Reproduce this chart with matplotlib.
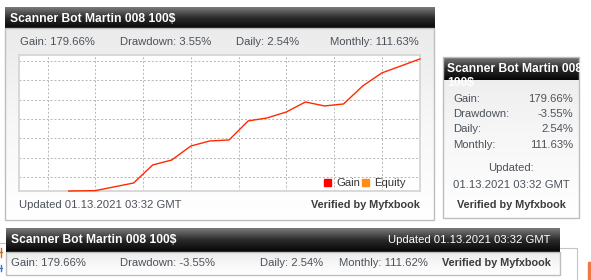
import numpy as np
import matplotlib.pyplot as plt
from matplotlib.patches import Rectangle
from matplotlib.colors import LinearSegmentedColormap

plt.rcParams['font.family'] = ['Liberation Sans', 'DejaVu Sans']

title = "Scanner Bot Martin 008 100$"
updated = "01.13.2021 03:32 GMT"
stat_labels = ["Gain:", "Drawdown:", "Daily:", "Monthly:"]
stats_top = ["179.66%", "3.55%", "2.54%", "111.63%"]
stats_side = ["179.66%", "-3.55%", "2.54%", "111.63%"]
stats_bottom = ["179.66%", "-3.55%", "2.54%", "111.62%"]

# gain curve, x in chart steps
step = [2.6, 4, 6, 7, 8, 9, 10, 11, 12, 13, 14, 15, 16, 17, 18, 19, 20, 21]
gain = [0, 0.5, 10.9, 35.4, 42.2, 61.2, 68.1, 69.4, 95.3, 99.4, 107.5,
        121.1, 115.7, 118.4, 142.9, 160.6, 170.1, 179.66]
series = ["Gain", "Equity"]
series_col = ["#ff0000", "#ff8c1a"]

W, H = 591, 280
fig = plt.figure(figsize=(W / 100, H / 100), dpi=100)
fig.patch.set_facecolor('white')

bg = fig.add_axes([0, 0, 1, 1])
bg.set_xlim(0, W)
bg.set_ylim(H, 0)
bg.axis('off')

hdr_cmap = LinearSegmentedColormap.from_list('hdr', ['#7a7a7a', '#2a2a2a', '#050505'])
body_cmap = LinearSegmentedColormap.from_list('body', ['#ebebeb', '#f7f7f7', '#ffffff'])
grad = np.linspace(0, 1, 64).reshape(-1, 1)


def gradient(x0, x1, y0, y1, cmap):
    bg.imshow(grad, cmap=cmap, aspect='auto', origin='upper',
              extent=(x0, x1, y1, y0), interpolation='bilinear', zorder=1)


def border(x0, x1, y0, y1, ec='#bdbdbd', lw=1.0):
    bg.add_patch(Rectangle((x0, y0), x1 - x0, y1 - y0, fill=False,
                           ec=ec, lw=lw, zorder=2))


TXT = '#4c525a'
BOLD = '#3c3c3c'

# ---- widget 1 (big, with chart)
gradient(5, 434, 28, 220, body_cmap)
border(5, 434, 28, 220)
gradient(5, 435, 7, 29, hdr_cmap)
bg.text(10, 18.5, title, color='white', fontsize=8.7, fontweight='bold', va='center', zorder=3)
for xp, lab, val in zip([20, 120, 236, 330], stat_labels, stats_top):
    bg.text(xp, 42, f"{lab} {val}", color=TXT, fontsize=8.1, va='center', zorder=3)
bg.text(19, 205, "Updated " + updated, color=TXT, fontsize=8.1, va='center', zorder=3)
bg.text(420, 205, "Verified by Myfxbook", color=BOLD, fontsize=7.8,
        fontweight='bold', ha='right', va='center', zorder=3)

# ---- widget 2 (side box)
gradient(443, 579, 57, 218, body_cmap)
border(443, 579, 57, 218)
gradient(443, 579, 57, 80, hdr_cmap)
bg.text(447, 69, "Scanner Bot Martin 008", color='white', fontsize=8.7,
        fontweight='bold', va='center', zorder=3)
bg.text(447, 83, "100$", color='white', fontsize=8.7, fontweight='bold', va='center', zorder=3)
for yp, lab, val in zip([99, 114, 129, 145], stat_labels, stats_side):
    bg.text(453, yp, lab, color=TXT, fontsize=8.1, va='center', zorder=3)
    bg.text(573, yp, val, color=TXT, fontsize=8.1, va='center', ha='right', zorder=3)
bg.text(511, 168, "Updated:", color=TXT, fontsize=8.1, va='center', ha='center', zorder=3)
bg.text(511, 185, updated, color=TXT, fontsize=8.1, va='center', ha='center', zorder=3)
bg.text(511, 205, "Verified by Myfxbook", color=BOLD, fontsize=7.8,
        fontweight='bold', ha='center', va='center', zorder=3)

# ---- widget 3 (bottom bar)
gradient(6, 560, 252, 275, body_cmap)
border(6, 560, 252, 275)
gradient(6, 560, 228, 252, hdr_cmap)
bg.text(11, 240, title, color='white', fontsize=8.7, fontweight='bold', va='center', zorder=3)
bg.text(550, 240, "Updated " + updated, color='white', fontsize=8.1, ha='right', va='center', zorder=3)
for xp, lab, val in zip([11, 120, 260, 339], stat_labels, stats_bottom):
    bg.text(xp, 263, f"{lab} {val}", color=TXT, fontsize=8.1, va='center', zorder=3)
bg.text(551, 263, "Verified by Myfxbook", color=BOLD, fontsize=7.8,
        fontweight='bold', ha='right', va='center', zorder=3)

# cropped bits of neighbouring widgets
bg.plot([560, 577, 577], [248, 248, 280], color='#c4c4c4', lw=0.8, zorder=2)
bg.add_patch(Rectangle((588, 262), 4, 20, color='#f07848', zorder=2))
bg.plot([0, 5], [243, 243], color='#c4c4c4', lw=0.8, zorder=2)
bg.plot([0, 1.5], [252, 252], color='#c87020', lw=1.0, zorder=2)
bg.plot([1, 1], [248, 257], color='#c87020', lw=1.0, zorder=2)
bg.plot([0, 1.5], [268, 268], color='#3a7ac8', lw=1.0, zorder=2)
bg.plot([1, 1], [265, 271], color='#3a7ac8', lw=1.0, zorder=2)

# ---- chart
ax = fig.add_axes([19 / W, 1 - 191 / H, 401 / W, 136 / H], zorder=2)
ax.set_facecolor('white')
ax.plot(step, gain, color='#ff2a00', lw=1.0, clip_on=False, zorder=3)
ax.set_xlim(0, 21)
ax.set_ylim(0, 185)
ax.set_xticks(np.arange(1.5, 21, 2.5))
ax.set_yticks(np.linspace(19.1, 177, 7))
ax.tick_params(length=0, labelbottom=False, labelleft=False)
ax.grid(True, color='#b5b5b5', linestyle=(0, (2, 2)), lw=0.7)
for s in ax.spines.values():
    s.set_color('#d6d6d6')
    s.set_linewidth(1.3)

# legend drawn on top of the chart
ov = fig.add_axes([0, 0, 1, 1], zorder=4)
ov.set_xlim(0, W)
ov.set_ylim(H, 0)
ov.axis('off')
ov.patch.set_visible(False)
for xp, name, col in zip([324, 362], series, series_col):
    ov.add_patch(Rectangle((xp, 178.5), 7, 7, color=col))
    ov.text(xp + 12, 182.5, name, color='#333333', fontsize=8.1, va='center')

fig.savefig('out.png', dpi=100)
